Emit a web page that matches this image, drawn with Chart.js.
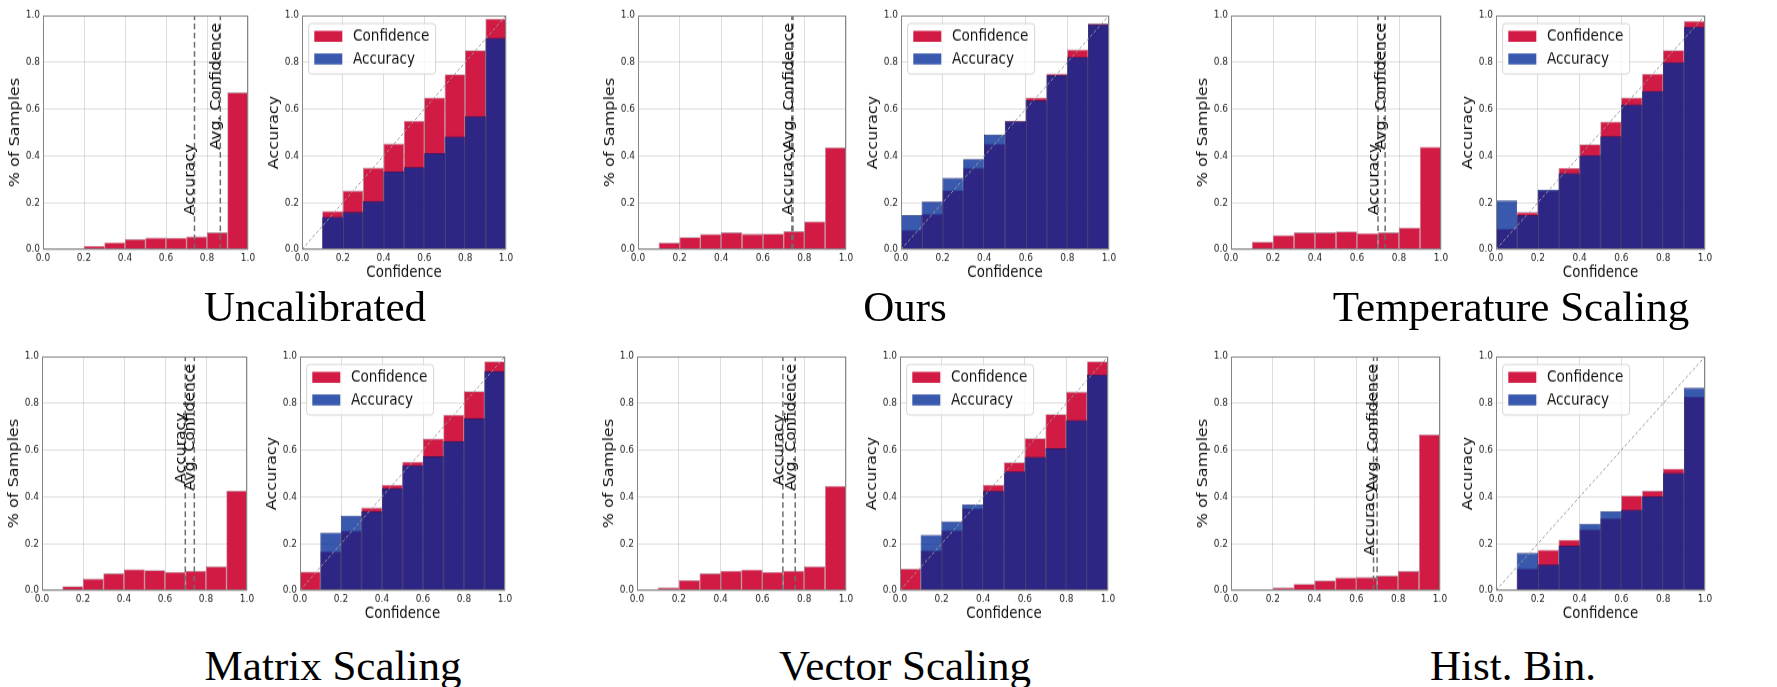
<!DOCTYPE html>
<html>
<head>
<meta charset="utf-8">
<script src="https://cdn.jsdelivr.net/npm/chart.js@4.4.1/dist/chart.umd.min.js"></script>
<style>
html, body { margin: 0; padding: 0; background: #fff; }
body { width: 1777px; height: 687px; position: relative; overflow: hidden; }
.cell { position: absolute; transform-origin: 0 0; }
.title { position: absolute; font-family: 'Liberation Serif', 'Times New Roman', serif; font-size: 43px; line-height: 43px; color: #000; white-space: nowrap; transform: translateX(-50%); }
</style>
</head>
<body>
<script>
// bin centres and tick labels shared by every panel
const bins = [0.05, 0.15, 0.25, 0.35, 0.45, 0.55, 0.65, 0.75, 0.85, 0.95];
const tickLabels = ['0.0', '0.2', '0.4', '0.6', '0.8', '1.0'];
const methods = ['Uncalibrated', 'Ours', 'Temperature Scaling', 'Matrix Scaling', 'Vector Scaling', 'Hist. Bin.'];

// % of samples per bin
const uncalSamples = [0, 0.004, 0.016, 0.031, 0.044, 0.051, 0.05, 0.056, 0.073, 0.671];
const oursSamples = [0.004, 0.03, 0.053, 0.066, 0.073, 0.067, 0.068, 0.078, 0.12, 0.436];
const tempSamples = [0, 0.033, 0.061, 0.073, 0.073, 0.077, 0.07, 0.073, 0.093, 0.439];
const matrixSamples = [0, 0.0185, 0.051, 0.073, 0.091, 0.087, 0.08, 0.085, 0.103, 0.427];
const vectorSamples = [0, 0.013, 0.044, 0.073, 0.085, 0.09, 0.08, 0.085, 0.103, 0.447];
const histSamples = [0, 0.004, 0.013, 0.028, 0.043, 0.056, 0.057, 0.064, 0.084, 0.667];

// mean confidence per bin
const uncalConf = [0, 0.164, 0.252, 0.35, 0.453, 0.55, 0.65, 0.749, 0.852, 0.987];
const oursConf = [0.085, 0.152, 0.254, 0.35, 0.453, 0.55, 0.65, 0.752, 0.855, 0.966];
const tempConf = [0.09, 0.16, 0.253, 0.349, 0.45, 0.547, 0.65, 0.751, 0.852, 0.977];
const matrixConf = [0.081, 0.168, 0.256, 0.355, 0.452, 0.55, 0.65, 0.751, 0.852, 0.979];
const vectorConf = [0.093, 0.171, 0.258, 0.352, 0.452, 0.548, 0.651, 0.754, 0.85, 0.979];
const histConf = [0, 0.095, 0.174, 0.217, 0.262, 0.309, 0.406, 0.427, 0.521, 0.83];

// accuracy per bin
const uncalAcc = [0, 0.14, 0.16, 0.207, 0.333, 0.352, 0.412, 0.483, 0.57, 0.905];
const oursAcc = [0.147, 0.205, 0.306, 0.386, 0.491, 0.548, 0.638, 0.745, 0.822, 0.963];
const tempAcc = [0.209, 0.147, 0.255, 0.326, 0.403, 0.484, 0.62, 0.678, 0.8, 0.952];
const matrixAcc = [0, 0.248, 0.32, 0.338, 0.437, 0.536, 0.574, 0.638, 0.736, 0.937];
const vectorAcc = [0, 0.238, 0.295, 0.368, 0.425, 0.509, 0.571, 0.608, 0.728, 0.923];
const histAcc = [0, 0.16, 0.111, 0.192, 0.286, 0.338, 0.346, 0.402, 0.503, 0.866];

// overall accuracy / average confidence (dashed lines)
const avgAccuracy = [0.739, 0.74, 0.70, 0.699, 0.698, 0.682];
const avgConfidence = [0.865, 0.745, 0.734, 0.743, 0.757, 0.699];

const samples = [uncalSamples, oursSamples, tempSamples, matrixSamples, vectorSamples, histSamples];
const confs = [uncalConf, oursConf, tempConf, matrixConf, vectorConf, histConf];
const accs = [uncalAcc, oursAcc, tempAcc, matrixAcc, vectorAcc, histAcc];

// layout (page pixels)
const SY = 1.147, L = 44, T = 10, R = 12, B = 34, PH = 204;
const plotX = [
  [[42.7, 247.3], [301.7, 505.7], [637.7, 846], [901.3, 1109], [1231, 1440.7], [1495.7, 1705]],
  [[41.7, 246.3], [300.3, 505], [636.7, 845.3], [900, 1108], [1230.7, 1440], [1495.7, 1705]]
];
const plotTop = [15.3, 356];
const titlePos = [[315, 285], [905, 285], [1511, 285], [333, 644], [905, 644], [1513, 644]];
const accLabelY = [0.147, 0.147, 0.147, 0.456, 0.449, 0.15];
const confLabelY = 0.427;

const RED = 'rgb(209,26,68)';
const RED_EDGE = 'rgba(90,0,30,0.45)';
const BLUE = 'rgba(0,42,150,0.78)';
const BLUE_EDGE = 'rgba(5,20,100,0.85)';
const GRID = 'rgba(165,165,165,0.38)';
const FONT = "'DejaVu Sans', sans-serif";

const frame = {
  id: 'frame',
  afterDraw(chart) {
    const a = chart.chartArea, c = chart.ctx;
    c.save();
    c.strokeStyle = '#858585';
    c.lineWidth = 1;
    c.strokeRect(Math.round(a.left) + 0.5, Math.round(a.top) + 0.5, Math.round(a.right - a.left) - 1, Math.round(a.bottom - a.top) - 1);
    c.restore();
  }
};

const vlabels = {
  id: 'vlabels',
  afterDatasetsDraw(chart, args, opts) {
    if (!opts.items || !opts.items.length) return;
    const c = chart.ctx, xs = chart.scales.x, ys = chart.scales.y;
    c.save();
    c.font = '13.6px ' + FONT;
    c.fillStyle = '#000';
    c.textAlign = 'left';
    c.textBaseline = 'alphabetic';
    opts.items.forEach(it => {
      c.save();
      c.translate(xs.getPixelForValue(it.x), ys.getPixelForValue(it.y));
      c.rotate(-Math.PI / 2);
      c.fillText(it.text, 0, 0);
      c.restore();
    });
    c.restore();
  }
};

const boxLegend = {
  id: 'boxLegend',
  afterDraw(chart, args, opts) {
    if (!opts.show) return;
    const c = chart.ctx, a = chart.chartArea;
    const x0 = a.left + 6.6, y0 = a.top + 7, w = 127, h = 44;
    c.save();
    c.beginPath();
    c.roundRect(x0, y0, w, h, 3);
    c.fillStyle = 'rgba(255,255,255,0.8)';
    c.fill();
    c.strokeStyle = '#d6d6d6';
    c.lineWidth = 1;
    c.stroke();
    const ds = chart.data.datasets;
    [0, 1].forEach((k, i) => {
      const cy = a.top + 18.2 + i * 19.7;
      c.fillStyle = '#fff';
      c.fillRect(a.left + 12.3, cy - 4.8, 28, 9.6);
      c.fillStyle = ds[k].backgroundColor;
      c.fillRect(a.left + 12.3, cy - 4.8, 28, 9.6);
      c.fillStyle = '#111';
      c.font = '13.6px ' + FONT;
      c.textBaseline = 'middle';
      c.fillText(ds[k].label, a.left + 51, cy + 0.5);
    });
    c.restore();
  }
};

function addCell(x0, x1, top) {
  const pw = Math.round(x1 - x0);
  const div = document.createElement('div');
  div.className = 'cell';
  div.style.left = Math.round(x0 - L) + 'px';
  div.style.top = Math.round(top - T * SY) + 'px';
  div.style.transform = 'scaleY(' + SY + ')';
  const cv = document.createElement('canvas');
  cv.width = L + pw + R;
  cv.height = T + PH + B;
  div.appendChild(cv);
  document.body.appendChild(div);
  return cv;
}

function axes(xTitle, yTitle) {
  return {
    x: {
      type: 'linear', min: 0, max: 1, offset: false, z: 1,
      grid: { color: GRID, lineWidth: 1, drawTicks: false, offset: false },
      border: { display: false },
      ticks: { stepSize: 0.2, padding: 2, color: '#262626', maxRotation: 0, autoSkip: false,
        font: { family: FONT, size: 9 }, callback: (v, i) => tickLabels[i] },
      title: { display: !!xTitle, text: xTitle || '', color: '#111',
        font: { family: FONT, size: 13.4 }, padding: { top: 0, bottom: 5.6 } },
      afterFit: s => { s.height = B; }
    },
    y: {
      type: 'linear', min: 0, max: 1, z: 1,
      grid: { color: GRID, lineWidth: 1, drawTicks: false },
      border: { display: false },
      ticks: { stepSize: 0.2, padding: 3, color: '#262626',
        font: { family: FONT, size: 9 }, callback: (v, i) => tickLabels[i] },
      title: { display: true, text: yTitle, color: '#111',
        font: { family: FONT, size: 14 }, padding: { top: 7.6, bottom: 0 } },
      afterFit: s => { s.width = L; }
    }
  };
}

function baseOptions(xTitle, yTitle, plugins) {
  return {
    responsive: false,
    animation: false,
    events: [],
    layout: { padding: { left: 0, top: T, right: R, bottom: 0 } },
    scales: axes(xTitle, yTitle),
    plugins: Object.assign({ legend: { display: false }, tooltip: { enabled: false } }, plugins)
  };
}

function barSet(label, values, color, edge, order) {
  return {
    type: 'bar', label: label,
    data: bins.map((b, i) => ({ x: b, y: values[i] })),
    backgroundColor: color, borderColor: edge, borderWidth: 0.8,
    barPercentage: 1.02, categoryPercentage: 1, grouped: false, order: order
  };
}

function lineSet(points, color, width, dash) {
  return {
    type: 'line', data: points, borderColor: color, borderWidth: width,
    borderDash: dash, pointRadius: 0, fill: false, tension: 0, order: 1
  };
}

methods.forEach((name, m) => {
  const row = Math.floor(m / 3), col = m % 3;
  const lx = plotX[row][2 * col], rx = plotX[row][2 * col + 1];

  // histogram of samples
  new Chart(addCell(lx[0], lx[1], plotTop[row]), {
    type: 'bar',
    data: {
      datasets: [
        barSet('Samples', samples[m], RED, RED_EDGE, 3),
        lineSet([{ x: avgAccuracy[m], y: 0 }, { x: avgAccuracy[m], y: 1 }], '#6e6e6e', 1.5, [5, 3]),
        lineSet([{ x: avgConfidence[m], y: 0 }, { x: avgConfidence[m], y: 1 }], '#6e6e6e', 1.5, [5, 3])
      ]
    },
    options: baseOptions(null, '% of Samples', {
      vlabels: { items: [
        { x: avgAccuracy[m], y: accLabelY[m], text: 'Accuracy' },
        { x: avgConfidence[m], y: confLabelY, text: 'Avg. Confidence' }
      ] },
      boxLegend: { show: false }
    }),
    plugins: [frame, vlabels, boxLegend]
  });

  // reliability diagram
  new Chart(addCell(rx[0], rx[1], plotTop[row]), {
    type: 'bar',
    data: {
      datasets: [
        barSet('Confidence', confs[m], RED, RED_EDGE, 3),
        barSet('Accuracy', accs[m], BLUE, BLUE_EDGE, 2),
        lineSet([{ x: 0, y: 0 }, { x: 1, y: 1 }], '#9a9a9a', 1, [3, 2])
      ]
    },
    options: baseOptions('Confidence', 'Accuracy', {
      vlabels: { items: [] },
      boxLegend: { show: true }
    }),
    plugins: [frame, vlabels, boxLegend]
  });

  const t = document.createElement('div');
  t.className = 'title';
  t.textContent = name;
  t.style.left = titlePos[m][0] + 'px';
  t.style.top = titlePos[m][1] + 'px';
  document.body.appendChild(t);
});
</script>
</body>
</html>
